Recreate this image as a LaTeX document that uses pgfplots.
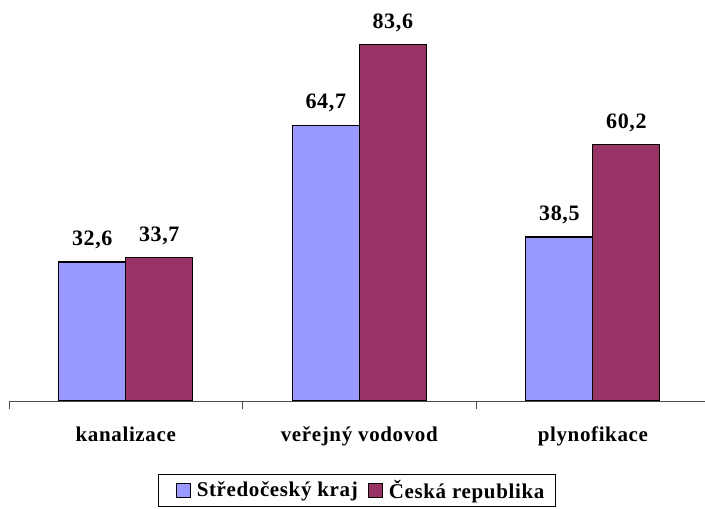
\documentclass[border=0pt]{standalone}
\usepackage{pgfplots}
\pgfplotsset{compat=1.18}
\usepackage{fontspec}
\setmainfont{Liberation Serif}[LetterSpace=3]
\definecolor{cblue}{HTML}{9999FF}
\definecolor{cmaroon}{HTML}{993366}
\begin{document}
\begin{tikzpicture}[x=1pt,y=1pt]
\useasboundingbox (0,0) rectangle (705,509);
\begin{axis}[
  at={(9pt,108pt)}, anchor=south west,
  scale only axis, width=696pt, height=401pt,
  xmin=-0.5, xmax=2.48, ymin=0, ymax=94.1,
  axis x line*=bottom, axis y line=none,
  ybar=0pt, bar width=67pt,
  xtick={0,1,2},
  xticklabels={kanalizace, veřejný vodovod, plynofikace},
  major tick length=0pt,
  xticklabel style={font=\bfseries\fontsize{21}{25}\selectfont, yshift=-22pt},
  extra x ticks={-0.5,0.5,1.5,2.5},
  extra x tick labels={},
  extra x tick style={major tick length=8pt, tick align=outside, tick style={black!70, line width=0.8pt}},
  axis line style={black!70, line width=0.8pt},
  nodes near coords,
  /pgf/number format/.cd, use comma, fixed, precision=1, fixed zerofill, assume math mode=true,
  /pgfplots/.cd,
  every node near coord/.append style={font=\bfseries\fontsize{22}{26}\selectfont, black, yshift=9pt},
  legend columns=2,
  legend style={at={(0.5,-0.182)}, anchor=north, draw=black, line width=0.8pt,
    font=\bfseries\fontsize{21}{25}\selectfont, inner xsep=9pt, inner ysep=4pt,
    /tikz/every odd column/.append style={column sep=4pt}},
  legend image code/.code={\path (-8pt,0pt); \draw[#1, draw=black, line width=1pt] (0pt,-7pt) rectangle (14pt,7pt);},
]
\addplot[fill=cblue, draw=black, line width=1.2pt] coordinates {(0,32.6) (1,64.7) (2,38.5)};
\addplot[fill=cmaroon, draw=black, line width=1.2pt] coordinates {(0,33.7) (1,83.6) (2,60.2)};
\legend{Středočeský kraj, Česká republika}
\end{axis}
\end{tikzpicture}
\end{document}
